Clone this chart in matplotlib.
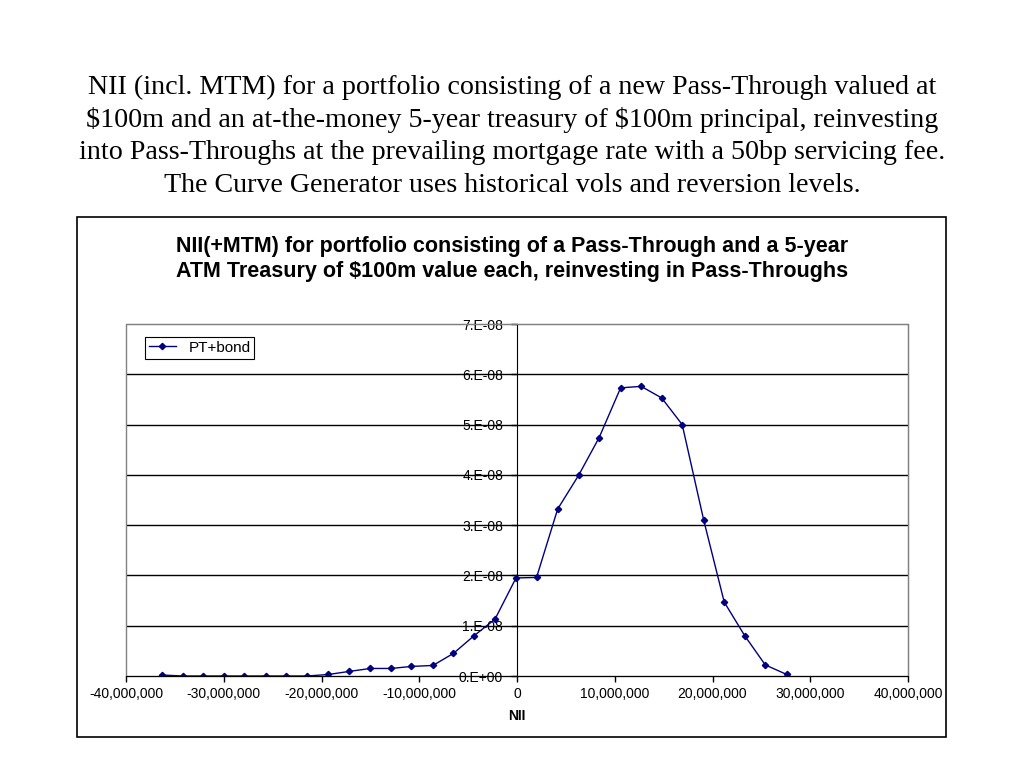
import matplotlib
matplotlib.use('Agg')
import matplotlib.pyplot as plt
from matplotlib.patches import Rectangle
from matplotlib.ticker import FuncFormatter, MultipleLocator

# NII in millions, value in units of 1e-8
nii_m = [-36.35, -34.2, -32.1, -29.97, -27.9, -25.7, -23.6, -21.5, -19.3, -17.2,
         -15.0, -12.9, -10.8, -8.6, -6.5, -4.4, -2.25, -0.1, 2.0, 4.16,
         6.3, 8.4, 10.6, 12.7, 14.8, 16.9, 19.1, 21.2, 23.3, 25.4, 27.6]
val_e8 = [0.02, 0.0, 0.0, 0.0, 0.0, 0.0, 0.0, 0.0, 0.03, 0.09,
          0.15, 0.15, 0.19, 0.21, 0.45, 0.80, 1.13, 1.95, 1.96, 3.32,
          3.99, 4.74, 5.73, 5.76, 5.53, 5.00, 3.10, 1.47, 0.80, 0.22, 0.03]

nii = [v * 1e6 for v in nii_m]
vals = [v * 1e-8 for v in val_e8]

slide_title = ("NII (incl. MTM) for a portfolio consisting of a new Pass-Through valued at\n"
               "\\$100m and an at-the-money 5-year treasury of \\$100m principal, reinvesting\n"
               "into Pass-Throughs at the prevailing mortgage rate with a 50bp servicing fee.\n"
               "The Curve Generator uses historical vols and reversion levels.")
chart_title = ("NII(+MTM) for portfolio consisting of a Pass-Through and a 5-year\n"
               "ATM Treasury of \\$100m value each, reinvesting in Pass-Throughs")

W, H = 1024, 768
fig = plt.figure(figsize=(W / 100, H / 100), dpi=100)
fig.patch.set_facecolor('white')

def fx(px):
    return px / W

def fy(py):
    return 1 - py / H

# slide title
fig.text(0.5, fy(136), slide_title, ha='center', va='center', family='Liberation Serif',
         fontsize=20.2, linespacing=1.38)

# chart outer border
fig.patches.append(Rectangle((fx(77), fy(737)), fx(946) - fx(77), fy(217) - fy(737),
                             transform=fig.transFigure, fill=False, edgecolor='black', linewidth=1.2))

fig.text(0.5, fy(259), chart_title, ha='center', va='center', family='Liberation Sans',
         fontweight='bold', fontsize=15.5, linespacing=1.2)

ax = fig.add_axes([fx(126), fy(676), fx(908) - fx(126), fy(324) - fy(676)])
ax.plot(nii, vals, color='#000080', linewidth=1, marker='D', markersize=3.2, label='PT+bond')

ax.set_xlim(-40e6, 40e6)
ax.set_ylim(0, 7e-8)
ax.xaxis.set_major_locator(MultipleLocator(10e6))
ax.yaxis.set_major_locator(MultipleLocator(1e-8))
ax.xaxis.set_major_formatter(FuncFormatter(lambda v, p: f'{v:,.0f}'))
ax.yaxis.set_major_formatter(FuncFormatter(lambda v, p: '0.E+00' if abs(v) < 1e-12 else f'{round(v / 1e-8):d}.E-08'))

for y in range(1, 7):
    ax.axhline(y * 1e-8, color='black', linewidth=1, zorder=0)

ax.spines['left'].set_position(('data', 0))
ax.spines['left'].set_color('black')
ax.spines['bottom'].set_color('black')
ax.spines['top'].set_color('#808080')
ax.spines['right'].set_color('#808080')
ax.add_patch(Rectangle((0, 0), 1, 1, transform=ax.transAxes, fill=False,
                       edgecolor='#808080', linewidth=1, zorder=0, clip_on=False))

ax.tick_params(axis='both', labelsize=10, length=4, direction='out', width=1)
for lab in ax.get_xticklabels() + ax.get_yticklabels():
    lab.set_family('Liberation Sans')
ax.tick_params(axis='y', pad=6)
ax.tick_params(axis='x', pad=4)
ax.set_xlabel('NII', fontsize=10, fontweight='bold', family='Liberation Sans', labelpad=6)

leg = ax.legend(loc='upper left', bbox_to_anchor=(0.024, 0.963), fancybox=False,
                framealpha=1, edgecolor='black', handlelength=1.8, borderpad=0.25,
                prop={'family': 'Liberation Sans', 'size': 11}, borderaxespad=0)
leg.get_frame().set_linewidth(0.8)

fig.savefig('out.png', dpi=100)
